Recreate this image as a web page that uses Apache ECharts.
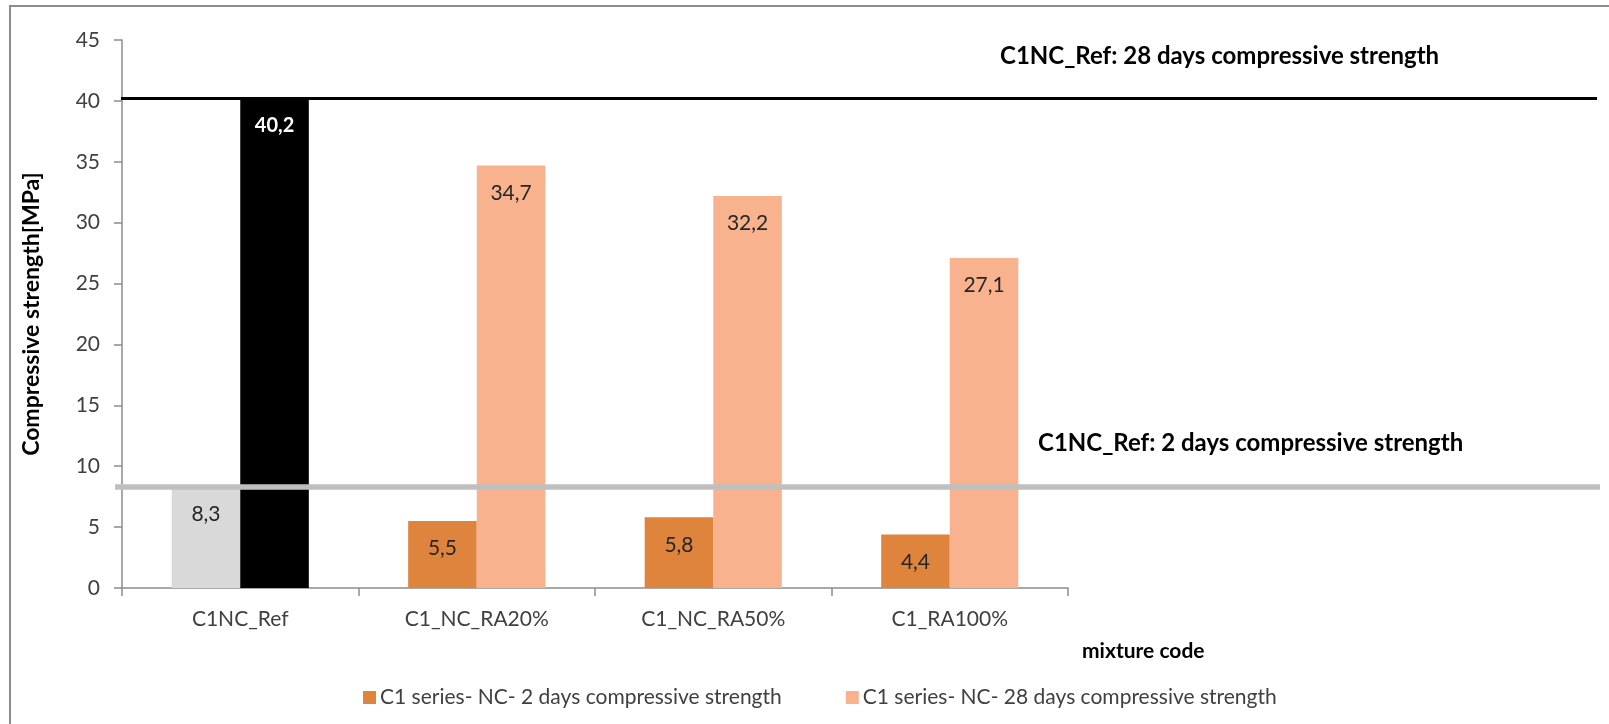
<!DOCTYPE html>
<html>
<head>
<meta charset="utf-8">
<title>C1 series compressive strength</title>
<script src="https://cdn.jsdelivr.net/npm/echarts@6/dist/echarts.min.js"></script>
<style>
  html, body { margin: 0; padding: 0; background: #ffffff; }
  #chart { width: 1609px; height: 724px; }
</style>
</head>
<body>
<div id="chart"></div>
<script>
// Mixture codes along the x axis
const mixtures = ['C1NC_Ref', 'C1_NC_RA20%', 'C1_NC_RA50%', 'C1_RA100%'];

// Compressive strength [MPa]
const strength2d = [8.3, 5.5, 5.8, 4.4];
const strength28d = [40.2, 34.7, 32.2, 27.1];

// Reference mix levels (taken from the C1NC_Ref column)
const ref2d = strength2d[0];
const ref28d = strength28d[0];

const seriesNames = [
  'C1 series- NC- 2 days compressive strength',
  'C1 series- NC- 28 days compressive strength'
];

const FONT = 'Lato, "Liberation Sans", sans-serif';
const ORANGE = '#de843d';
const SALMON = '#f8b38e';
const REF_GRAY = '#d9d9d9';
const REF_BLACK = '#000000';

const fmt = (p) => String(p.value).replace('.', ',');

const chart = echarts.init(document.getElementById('chart'), null, { renderer: 'canvas' });

const twoDayData = strength2d.map((v, i) =>
  i === 0 ? { value: v, itemStyle: { color: REF_GRAY } } : v);

const day28Data = strength28d.map((v, i) =>
  i === 0
    ? { value: v, itemStyle: { color: REF_BLACK },
        label: { color: '#ffffff', fontWeight: 'bold', fontSize: 20 } }
    : v);

const barLabel = {
  show: true,
  position: 'insideTop',
  distance: 17,
  formatter: fmt,
  fontFamily: FONT,
  fontSize: 21,
  color: '#262626'
};

chart.setOption({
  animation: false,
  backgroundColor: '#ffffff',
  textStyle: { fontFamily: FONT },
  grid: { left: 122, top: 40, width: 946, height: 548, containLabel: false },
  legend: {
    left: 358,
    top: 682,
    icon: 'rect',
    itemWidth: 13,
    itemHeight: 13,
    itemGap: 64,
    textStyle: { fontFamily: FONT, fontSize: 21, color: '#404040', padding: [0, 0, 0, -1] },
    data: seriesNames
  },
  xAxis: {
    type: 'category',
    data: mixtures,
    axisLine: { lineStyle: { color: '#8c8c8c', width: 1.5 } },
    axisTick: { show: true, length: 8, alignWithLabel: false, lineStyle: { color: '#8c8c8c', width: 1.5 } },
    axisLabel: { color: '#404040', fontSize: 21, margin: 21, fontFamily: FONT },
    splitLine: { show: false }
  },
  yAxis: {
    type: 'value',
    min: 0,
    max: 45,
    interval: 5,
    name: 'Compressive strength[MPa]',
    nameLocation: 'middle',
    nameRotate: 90,
    nameGap: 79,
    nameTextStyle: { fontFamily: FONT, fontWeight: 'bold', fontSize: 23, color: '#000000' },
    axisLine: { show: true, lineStyle: { color: '#8c8c8c', width: 1.5 } },
    axisTick: { show: true, length: 8, lineStyle: { color: '#8c8c8c', width: 1.5 } },
    axisLabel: { color: '#404040', fontSize: 21, margin: 22, fontFamily: FONT },
    splitLine: { show: false }
  },
  series: [
    {
      name: seriesNames[0],
      type: 'bar',
      data: twoDayData,
      barGap: '0%',
      barCategoryGap: '42%',
      itemStyle: { color: ORANGE },
      clip: false,
      label: barLabel,
      z: 2
    },
    {
      name: seriesNames[1],
      type: 'bar',
      data: day28Data,
      itemStyle: { color: SALMON },
      clip: false,
      label: barLabel,
      markLine: {
        silent: true,
        symbol: 'none',
        animation: false,
        label: { show: false },
        data: [
          [
            { x: 121, yAxis: ref28d, lineStyle: { color: '#000000', width: 3, type: 'solid' } },
            { x: 1597, yAxis: ref28d }
          ],
          [
            { x: 115, yAxis: ref2d, lineStyle: { color: '#bfbfbf', width: 5.5, type: 'solid' } },
            { x: 1600, yAxis: ref2d }
          ]
        ]
      },
      z: 2
    }
  ],
  graphic: [
    {
      type: 'rect',
      silent: true,
      shape: { x: 10, y: 6, width: 1700, height: 800 },
      style: { fill: null, stroke: '#8c8c8c', lineWidth: 2 },
      z: -1
    },
    {
      type: 'text',
      silent: true,
      left: 1000,
      top: 44,
      style: {
        text: 'C1NC_Ref: 28 days compressive strength',
        fontFamily: FONT, fontWeight: 'bold', fontSize: 24, fill: '#000000'
      }
    },
    {
      type: 'text',
      silent: true,
      left: 1038,
      top: 431,
      style: {
        text: 'C1NC_Ref: 2 days compressive strength',
        fontFamily: FONT, fontWeight: 'bold', fontSize: 24, fill: '#000000'
      }
    },
    {
      type: 'text',
      silent: true,
      left: 1082,
      top: 641,
      style: {
        text: 'mixture code',
        fontFamily: FONT, fontWeight: 'bold', fontSize: 21, fill: '#000000'
      }
    }
  ]
});
</script>
</body>
</html>
